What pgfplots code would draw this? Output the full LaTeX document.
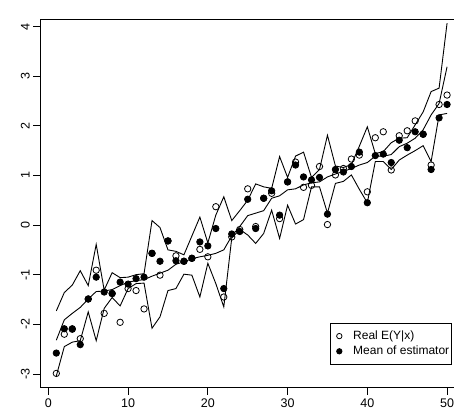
\documentclass[border=0pt]{standalone}
\usepackage{fontspec}
\setmainfont{Liberation Sans}
\usepackage{pgfplots}
\usepackage{pgfplotstable}
\pgfplotsset{compat=1.18}

% x, real E(Y|x), mean of estimator, middle line, upper band, lower band
\pgfplotstableread{
x real mean mid up lo
1 -2.99 -2.58 -2.32 -1.73 -3.04
2 -2.20 -2.09 -1.91 -1.36 -2.45
3 -2.10 -2.09 -1.78 -1.21 -2.36
4 -2.29 -2.41 -1.66 -0.92 -2.33
5 -1.49 -1.49 -1.49 -1.22 -1.75
6 -0.91 -1.05 -1.34 -0.39 -2.33
7 -1.78 -1.35 -1.33 -1.31 -1.68
8 -1.38 -1.38 -1.30 -0.96 -1.46
9 -1.96 -1.15 -1.22 -1.06 -1.63
10 -1.28 -1.19 -1.15 -1.05 -1.28
11 -1.32 -1.08 -1.12 -1.00 -1.18
12 -1.69 -1.05 -1.10 -0.98 -1.17
13 -0.57 -0.57 -1.03 0.09 -2.08
14 -1.01 -0.73 -0.97 -0.05 -1.85
15 -0.32 -0.32 -0.91 -0.50 -1.32
16 -0.62 -0.72 -0.79 -0.53 -1.28
17 -0.73 -0.73 -0.74 -0.60 -0.99
18 -0.67 -0.67 -0.68 -0.22 -1.01
19 -0.49 -0.34 -0.64 0.16 -1.45
20 -0.64 -0.42 -0.61 -0.36 -0.77
21 0.37 -0.07 -0.57 0.20 -1.18
22 -1.45 -1.28 -0.50 0.57 -1.65
23 -0.24 -0.18 -0.22 0.09 -0.26
24 -0.09 -0.13 -0.03 0.29 -0.09
25 0.73 0.52 0.19 0.50 -0.20
26 -0.03 -0.07 0.24 0.83 -0.37
27 0.54 0.54 0.29 0.77 -0.17
28 0.64 0.69 0.54 0.74 0.30
29 0.13 0.20 0.59 1.38 -0.27
30 0.87 0.87 0.71 0.96 0.40
31 1.27 1.21 0.73 1.39 0.02
32 0.76 0.97 0.81 1.47 0.11
33 0.80 0.91 0.85 0.96 0.77
34 1.18 0.96 0.87 1.12 0.77
35 0.01 0.22 0.97 1.81 0.24
36 1.01 1.12 1.03 1.19 0.84
37 1.14 1.07 1.08 1.16 0.88
38 1.33 1.18 1.14 1.22 1.01
39 1.41 1.47 1.21 1.59 0.72
40 0.67 0.45 1.26 1.98 0.45
41 1.76 1.40 1.39 1.44 1.28
42 1.88 1.43 1.39 1.48 1.28
43 1.11 1.26 1.42 1.66 1.12
44 1.80 1.71 1.58 1.75 1.31
45 1.90 1.56 1.65 1.76 1.41
46 2.10 1.88 1.75 2.02 1.50
47 1.83 1.83 1.92 2.28 1.60
48 1.21 1.12 2.22 2.69 1.28
49 2.43 2.16 2.45 2.76 2.22
50 2.62 2.43 3.19 4.07 2.25
}\datatable

\begin{document}
\begin{tikzpicture}
\begin{axis}[
    scale only axis,
    width=422pt, height=368pt,
    xmin=-0.96, xmax=51.96,
    ymin=-3.27, ymax=4.147,
    xtick={0,10,...,50},
    ytick={-3,-2,...,4},
    axis line style={line width=0.8pt},
    every tick/.style={black, line width=0.8pt},
    tick align=outside,
    major tick length=7.5pt,
    xtick pos=bottom, ytick pos=left,
    /pgf/number format/assume math mode=true,
    tick label style={font=\fontsize{12.5}{14}\selectfont},
    yticklabel style={rotate=90, anchor=south},
    legend image code/.code={
        \path[draw=none, fill=none] (-7.5pt,0pt) rectangle (12.4pt,0pt);
        \draw[#1, mark size=2.7pt] plot coordinates {(0pt,0pt)};
    },
    legend style={
        at={(0.975,0.0625)}, anchor=south east,
        draw=black, line width=0.8pt,
        font=\fontsize{12}{14}\selectfont,
        cells={anchor=west},
        inner xsep=1pt, inner ysep=5.5pt,
        row sep=1pt,
        nodes={inner xsep=1.5pt},
    },
    legend cell align=left,
]
\coordinate (o) at (rel axis cs:0,0);
\addplot[black, line width=0.9pt, sharp plot, forget plot] table[x=x, y=up] {\datatable};
\addplot[black, line width=0.9pt, sharp plot, forget plot] table[x=x, y=mid] {\datatable};
\addplot[black, line width=0.9pt, sharp plot, forget plot] table[x=x, y=lo] {\datatable};
\addplot[only marks, mark=o, mark size=3.2pt, mark options={black, line width=0.8pt}] table[x=x, y=real] {\datatable};
\addlegendentry{Real E(Y\textbar x)}
\addplot[only marks, mark=*, mark size=3.2pt, mark options={black, line width=0.8pt}] table[x=x, y=mean] {\datatable};
\addlegendentry{Mean of estimator}
\end{axis}
\pgfresetboundingbox
\path[use as bounding box] ([shift={(-40.7pt,-29.7pt)}]o) rectangle ([shift={(413.3pt,387.3pt)}]o);
\end{tikzpicture}
\end{document}
